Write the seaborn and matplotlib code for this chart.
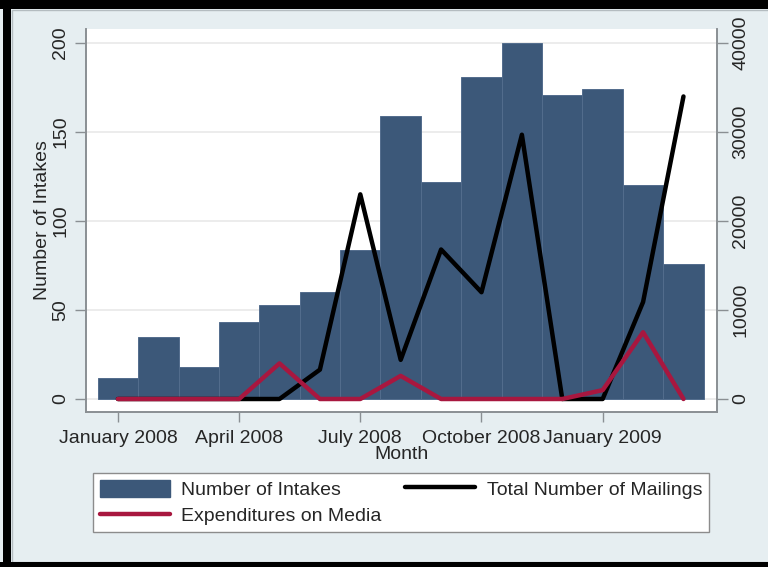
import numpy as np
import pandas as pd
import seaborn as sns
import matplotlib.pyplot as plt
from matplotlib.patches import Rectangle, Patch
from matplotlib.lines import Line2D

# monthly values
months = ["Jan 2008", "Feb 2008", "Mar 2008", "Apr 2008", "May 2008", "Jun 2008",
          "Jul 2008", "Aug 2008", "Sep 2008", "Oct 2008", "Nov 2008", "Dec 2008",
          "Jan 2009", "Feb 2009", "Mar 2009"]
intakes = [12, 35, 18, 43, 53, 60, 84, 159, 122, 181, 200, 171, 174, 120, 76]
mailings = [0, 0, 0, 0, 0, 3300, 23000, 4400, 16800, 12000, 29700, 0, 0, 10900, 34000]
media = [0, 0, 0, 0, 4000, 0, 0, 2600, 0, 0, 0, 0, 1000, 7500, 0]

tick_pos = [0, 3, 6, 9, 12]
tick_labels = ["January 2008", "April 2008", "July 2008", "October 2008", "January 2009"]
left_ticks = [0, 50, 100, 150, 200]
right_ticks = [0, 10000, 20000, 30000, 40000]

bg = "#e6eef1"
navy = "#3c5879"
red = "#a8173f"
axis_gray = "#8a8f93"

sns.set_style("white")
plt.rcParams['font.family'] = ['Liberation Sans', 'DejaVu Sans']

df = pd.DataFrame({"month": months, "pos": np.arange(len(months)),
                   "intakes": intakes, "mailings": mailings, "media": media})

fig = plt.figure(figsize=(7.68, 5.67), dpi=100, facecolor=bg)
ax = fig.add_axes([86/768, 1-412/567, (717-86)/768, (412-29)/567])
ax.set_facecolor("white")

sns.barplot(data=df, x="pos", y="intakes", ax=ax, color=navy, saturation=1,
            width=1.0, native_scale=True, edgecolor="#536d8d", linewidth=0.7)

ax2 = ax.twinx()
sns.lineplot(data=df, x="pos", y="mailings", ax=ax2, color="black", linewidth=3.2)
sns.lineplot(data=df, x="pos", y="media", ax=ax2, color=red, linewidth=3.2)

ax.set_xlim(-0.79, 14.83)
ax.set_ylim(-7.3, 207.9)
ax2.set_ylim(-1460, 41580)

ax.set_axisbelow(True)
ax.yaxis.grid(True, color="#ebebeb", linewidth=1.3)
ax.xaxis.grid(False)

ax.set_xticks(tick_pos, tick_labels)
ax.set_yticks(left_ticks, [str(v) for v in left_ticks])
ax2.set_yticks(right_ticks, [str(v) for v in right_ticks])

ax.tick_params(axis="x", bottom=True, length=7, width=1, color=axis_gray, labelsize=14, pad=6)
ax.tick_params(axis="y", left=True, length=8, width=1, color=axis_gray, labelsize=14,
               pad=4, labelrotation=90)
ax2.tick_params(axis="y", right=True, length=8, width=1, color=axis_gray, labelsize=14,
                pad=3, labelrotation=90)
for t in ax.get_yticklabels():
    t.set_va("center")
for t in ax2.get_yticklabels():
    t.set_va("center")

ax.set_xlabel("Month", fontsize=14, labelpad=-1)
ax.set_ylabel("Number of Intakes", fontsize=14, labelpad=1)
ax2.set_xlabel("")
ax2.set_ylabel("")

for a in (ax, ax2):
    a.spines["top"].set_visible(False)
    for s in ("left", "right", "bottom"):
        a.spines[s].set_color(axis_gray)
        a.spines[s].set_linewidth(1.2)

handles = [Patch(facecolor=navy, edgecolor=navy),
           Line2D([], [], color=red, linewidth=3.2),
           Line2D([], [], color="black", linewidth=3.2)]
labels = ["Number of Intakes", "Expenditures on Media", "Total Number of Mailings"]
fig.legend(handles, labels, ncol=2, loc="upper center",
           bbox_to_anchor=(93/768, 1-537/567, 616/768, 64/567), mode="expand",
           frameon=True, fancybox=False, edgecolor="#8c8c8c", facecolor="white",
           framealpha=1, fontsize=14, handlelength=3.6, handleheight=1.0,
           handletextpad=0.6, borderaxespad=0, borderpad=0.35, labelspacing=0.35)

# outer frame of the graph region
fig.add_artist(Rectangle((12/768, 5/567), 1, 552/567, transform=fig.transFigure,
                         fill=False, edgecolor="#b4bcc0", linewidth=1))
fig.add_artist(Rectangle((0, 1-9/567), 1, 9/567, transform=fig.transFigure,
                         color="black", linewidth=0))
fig.add_artist(Rectangle((3/768, 0), 8/768, 1, transform=fig.transFigure,
                         color="black", linewidth=0))
fig.add_artist(Rectangle((0, 0), 1, 5/567, transform=fig.transFigure,
                         color="black", linewidth=0))

fig.savefig("out.png", dpi=100, facecolor=bg)
